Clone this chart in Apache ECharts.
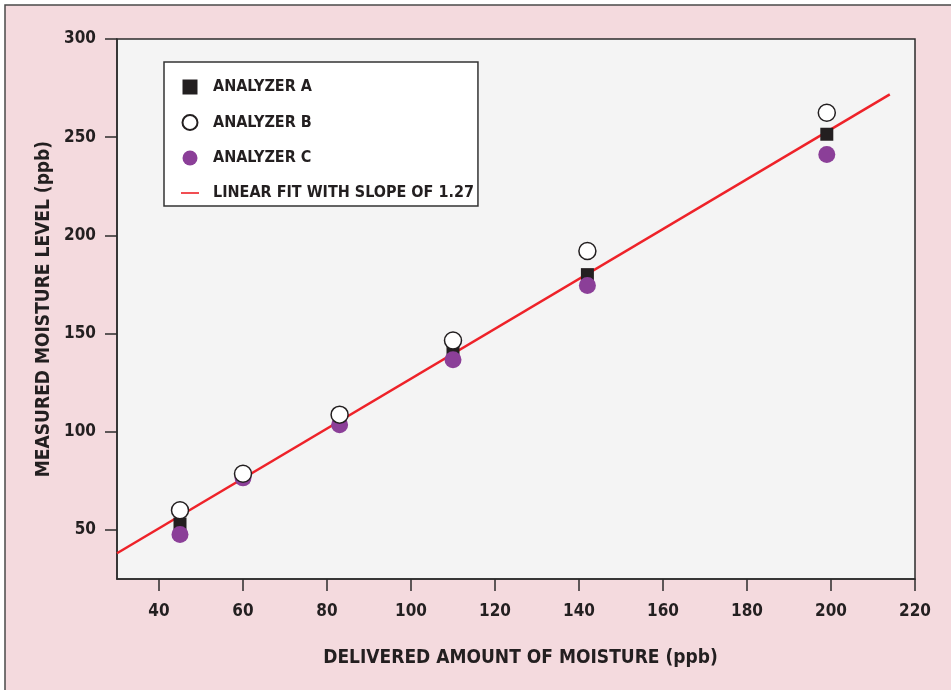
<!DOCTYPE html>
<html>
<head>
<meta charset="utf-8">
<script src="https://cdn.jsdelivr.net/npm/echarts@6/dist/echarts.min.js"></script>
<style>
  html, body { margin: 0; padding: 0; background: #ffffff; }
  #chart { width: 951px; height: 690px; }
</style>
</head>
<body>
<div id="chart"></div>
<script>
// Delivered moisture (ppb) at each test point
const delivered = [45, 60, 83, 110, 142, 199];
// Measured moisture (ppb) per analyzer
const analyzerA = [53, 77, 105, 141, 180, 251.5];
const analyzerB = [60, 78.6, 108.7, 146.5, 192, 262.4];
const analyzerC = [47.7, 76.5, 103.5, 136.7, 174.5, 241.2];
// Linear fit end points
const fitX = [30, 214];
const fitY = [38.1, 271.8];
// Axis tick labels
const xTicks = [40, 60, 80, 100, 120, 140, 160, 180, 200, 220];
const yTicks = [50, 100, 150, 200, 250, 300];

const seriesNames = ['ANALYZER A', 'ANALYZER B', 'ANALYZER C', 'LINEAR FIT WITH SLOPE OF 1.27'];

const FONT = "'DejaVu Sans Condensed', 'Liberation Sans Narrow', sans-serif";
const INK = '#231f20';

const pairs = (xs, ys) => xs.map((x, i) => [x, ys[i]]);

const chart = echarts.init(document.getElementById('chart'), null, { renderer: 'canvas' });

chart.setOption({
  backgroundColor: '#ffffff',
  animation: false,
  graphic: [{
    type: 'rect',
    z: -10,
    silent: true,
    shape: { x: 5, y: 5, width: 960, height: 700 },
    style: { fill: '#f4dade', stroke: '#4a4a4a', lineWidth: 1.5 }
  }],
  grid: {
    left: 117, top: 39, right: 36, bottom: 111,
    show: true,
    backgroundColor: '#f4f4f4',
    borderColor: '#2b2b2b',
    borderWidth: 1.5
  },
  legend: {
    orient: 'vertical',
    left: 164, top: 62,
    padding: [17, 4, 5, 17],
    backgroundColor: '#ffffff',
    borderColor: '#333333',
    borderWidth: 1.5,
    itemWidth: 18,
    itemHeight: 15,
    itemGap: 19,
    textStyle: {
      fontFamily: FONT, fontWeight: 'bold', fontSize: 16, color: INK,
      padding: [0, 0, 0, 9], lineHeight: 15
    },
    data: [
      { name: seriesNames[0], icon: 'path://M0,0L10,0L10,10L0,10Z' },
      { name: seriesNames[1], icon: 'circle' },
      { name: seriesNames[2], icon: 'circle' },
      { name: seriesNames[3], icon: 'path://M0,0L18,0L18,1.6L0,1.6Z' }
    ]
  },
  xAxis: {
    type: 'value',
    min: 30, max: 220,
    splitLine: { show: false },
    axisLine: { onZero: false, lineStyle: { color: '#2b2b2b', width: 1.5 } },
    axisTick: { length: 12, lineStyle: { color: '#2b2b2b', width: 1.5 }, customValues: xTicks },
    axisLabel: {
      customValues: xTicks, margin: 24,
      fontFamily: FONT, fontWeight: 'bold', fontSize: 17, color: INK
    },
    name: 'DELIVERED AMOUNT OF MOISTURE (ppb)',
    nameLocation: 'middle',
    nameGap: 70,
    nameTextStyle: {
      fontFamily: FONT, fontWeight: 'bold', fontSize: 19, color: INK,
      padding: [0, 0, 0, 9]
    }
  },
  yAxis: {
    type: 'value',
    min: 25, max: 300,
    splitLine: { show: false },
    axisLine: { onZero: false, lineStyle: { color: '#2b2b2b', width: 1.5 } },
    axisTick: { length: 12, lineStyle: { color: '#2b2b2b', width: 1.5 }, customValues: yTicks },
    axisLabel: {
      customValues: yTicks, margin: 21,
      fontFamily: FONT, fontWeight: 'bold', fontSize: 17, color: INK
    },
    name: 'MEASURED MOISTURE LEVEL (ppb)',
    nameLocation: 'middle',
    nameGap: 61,
    nameTextStyle: {
      fontFamily: FONT, fontWeight: 'bold', fontSize: 19, color: INK
    }
  },
  series: [
    {
      name: seriesNames[3],
      type: 'line',
      data: pairs(fitX, fitY),
      symbol: 'none',
      lineStyle: { color: '#ee2229', width: 2.5 },
      itemStyle: { color: '#ee2229' },
      z: 2
    },
    {
      name: seriesNames[0],
      type: 'scatter',
      data: pairs(delivered, analyzerA),
      symbol: 'rect',
      symbolSize: 13,
      itemStyle: { color: INK, opacity: 1 },
      z: 3
    },
    {
      name: seriesNames[2],
      type: 'scatter',
      data: pairs(delivered, analyzerC),
      symbol: 'circle',
      symbolSize: 17,
      itemStyle: { color: '#8b3f98', opacity: 1 },
      z: 4
    },
    {
      name: seriesNames[1],
      type: 'scatter',
      data: pairs(delivered, analyzerB),
      symbol: 'circle',
      symbolSize: 17,
      itemStyle: { color: '#ffffff', borderColor: INK, borderWidth: 1.5, opacity: 1 },
      z: 5
    }
  ]
});
</script>
</body>
</html>
